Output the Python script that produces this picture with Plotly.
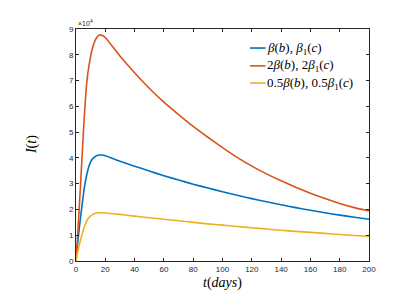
import plotly.graph_objects as go

t = [0, 1, 2, 3, 4, 5, 6, 7, 8, 9, 10, 12, 14, 16, 18, 20, 30, 40, 50, 60, 70, 80, 90, 100,
     110, 120, 130, 140, 150, 160, 170, 180, 190, 200]
I_base = [0, 0.6, 1.15, 1.65, 2.1, 2.55, 2.95, 3.25, 3.5, 3.7, 3.85, 4.0, 4.08, 4.11, 4.11, 4.08,
          3.87, 3.68, 3.49, 3.31, 3.14, 2.98, 2.83, 2.69, 2.55, 2.42, 2.30, 2.18, 2.07, 1.97, 1.87, 1.78, 1.70, 1.62]
I_double = [0, 0.9, 1.85, 2.85, 3.9, 4.95, 5.9, 6.7, 7.25, 7.62, 7.95, 8.4, 8.66, 8.77, 8.75, 8.67,
            7.95, 7.30, 6.70, 6.16, 5.68, 5.22, 4.80, 4.40, 4.02, 3.68, 3.38, 3.11, 2.86, 2.63, 2.42, 2.23, 2.07, 1.94]
I_half = [0, 0.3, 0.55, 0.8, 1.0, 1.2, 1.38, 1.52, 1.62, 1.69, 1.75, 1.82, 1.86, 1.87, 1.87, 1.86,
          1.81, 1.74, 1.68, 1.62, 1.56, 1.50, 1.44, 1.39, 1.34, 1.29, 1.24, 1.19, 1.15, 1.11, 1.07, 1.03, 0.99, 0.96]
scale = 1e4

names = ["<i>β</i>(<i>b</i>), <i>β</i><sub>1</sub>(<i>c</i>)",
         "2<i>β</i>(<i>b</i>), 2<i>β</i><sub>1</sub>(<i>c</i>)",
         "0.5<i>β</i>(<i>b</i>), 0.5<i>β</i><sub>1</sub>(<i>c</i>)"]
colors = ["#0072BD", "#D95319", "#EDB120"]
series = [I_base, I_double, I_half]

x_ticks = [0, 20, 40, 60, 80, 100, 120, 140, 160, 180, 200]
y_ticks = [0, 1, 2, 3, 4, 5, 6, 7, 8, 9]

fig = go.Figure()
for ys, nm, c in zip(series, names, colors):
    fig.add_trace(go.Scatter(x=t, y=[v * scale for v in ys], mode="lines", name=nm, showlegend=False,
                             line=dict(color=c, width=1.6, shape="spline", smoothing=0.5)))

axis_common = dict(showgrid=False, zeroline=False, showline=True, linecolor="#262626", linewidth=1,
                   mirror="allticks", ticks="inside", ticklen=3, tickcolor="#262626", automargin=False,
                   tickfont=dict(family="Liberation Sans, Arial", size=8, color="#262626"))

title_font = dict(family="Liberation Serif, DejaVu Serif", size=14, color="#000000")
legend_font = dict(family="Liberation Serif, DejaVu Serif", size=13, color="#000000")

annotations = [
    dict(text="×10<sup>4</sup>", xref="paper", yref="paper", x=0, y=1, xanchor="left",
         yanchor="bottom", showarrow=False,
         font=dict(family="Liberation Sans, Arial", size=7, color="#262626")),
    dict(text="<i>t</i>(<i>days</i>)", xref="paper", yref="paper", x=0.5, y=-0.095,
         xanchor="center", yanchor="middle", showarrow=False, font=title_font),
    dict(text="<i>I</i>(<i>t</i>)", xref="paper", yref="paper", x=-0.15, y=0.5, textangle=-90,
         xanchor="center", yanchor="middle", showarrow=False, font=title_font),
]
shapes = []
legend_rows = [0.918, 0.841, 0.767]
for nm, c, ry in zip(names, colors, legend_rows):
    shapes.append(dict(type="line", xref="paper", yref="paper", x0=0.594, x1=0.647, y0=ry, y1=ry,
                       line=dict(color=c, width=1.6)))
    annotations.append(dict(text=nm, xref="paper", yref="paper", x=0.645, y=ry, xanchor="left",
                            yanchor="middle", showarrow=False, font=legend_font))

fig.update_layout(
    width=410, height=286,
    margin=dict(l=68, r=49, t=21, b=33, autoexpand=False),
    paper_bgcolor="white", plot_bgcolor="white",
    showlegend=False,
    xaxis=dict(range=[0, 200], tickvals=x_ticks, ticktext=[str(v) for v in x_ticks], **axis_common),
    yaxis=dict(range=[0, 9 * scale], tickvals=[v * scale for v in y_ticks], ticktext=[str(v) for v in y_ticks],
               **axis_common),
    annotations=annotations,
    shapes=shapes,
)

fig.write_html("out.html")
